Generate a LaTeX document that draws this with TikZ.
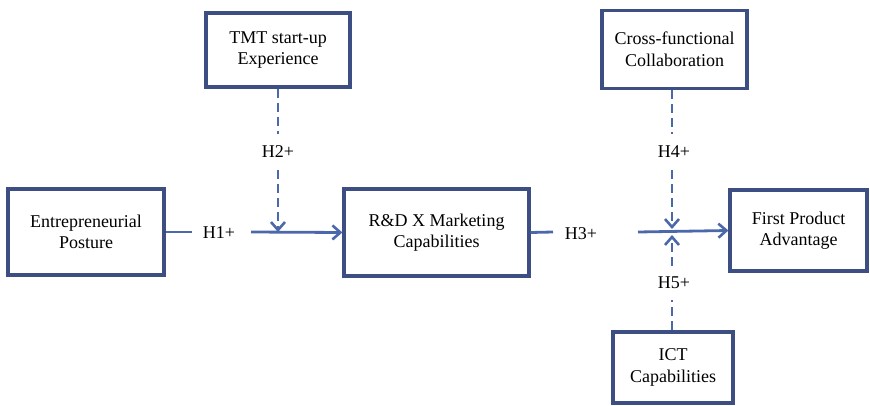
\documentclass[tikz,border=0pt]{standalone}
\usepackage{fontspec}
\setmainfont{Liberation Serif}
\usetikzlibrary{arrows.meta}
\definecolor{boxcol}{RGB}{60,78,130}
\definecolor{linecol}{RGB}{76,104,172}
\begin{document}
\begin{tikzpicture}[x=1pt,y=-1pt,
  box/.style={draw=boxcol,line width=3.2pt,fill=white,align=center,
    font=\fontsize{18}{21.5}\selectfont,inner sep=0pt},
  lbl/.style={font=\fontsize{18}{21.5}\selectfont,inner sep=0pt},
  conn/.style={draw=linecol,line width=2.8pt},
  dconn/.style={conn,dash pattern=on 9pt off 5pt},
  tip/.style={-{Straight Barb[length=8pt,width=14pt,line width=2.6pt]}}]
\useasboundingbox (0,0) rectangle (870,406);
% boxes
\node[box,minimum width=156pt,minimum height=86pt] (ep) at (86,232) {Entrepreneurial\\Posture};
\node[box,minimum width=144pt,minimum height=74pt] (tmt) at (278,50) {TMT start-up\\Experience};
\node[box,minimum width=185pt,minimum height=87pt] (rd) at (436.5,232.5) {R\&D X Marketing\\Capabilities};
\node[box,minimum width=145pt,minimum height=78pt] (cf) at (674.5,49.5) {Cross-functional\\Collaboration};
\node[box,minimum width=137pt,minimum height=81pt] (fpa) at (798.5,230.5) {First Product\\Advantage};
\node[box,minimum width=120pt,minimum height=71pt] (ict) at (673,367.5) {ICT\\Capabilities};
% labels
\node[lbl] (h1) at (219,233) {H1+};
\node[lbl] (h2) at (278,152) {H2+};
\node[lbl] (h3) at (581,234) {H3+};
\node[lbl] (h4) at (674,152) {H4+};
\node[lbl] (h5) at (674,283) {H5+};
% coordinates
\coordinate (h1a) at (192,232);
\coordinate (h1b) at (251,232);
\coordinate (j1) at (278,232);
\coordinate (h2a) at (278,134);
\coordinate (h2b) at (278,170);
\coordinate (h3a) at (553,232);
\coordinate (h3b) at (638,232);
\coordinate (j2) at (672,232);
\coordinate (j2u) at (672,229);
\coordinate (j2d) at (672,235);
\coordinate (h4a) at (672,134);
\coordinate (h4b) at (672,170);
\coordinate (h5a) at (672,300);
\coordinate (h5b) at (672,266);
% connectors
\draw[conn] (ep.east) -- (h1a);
\draw[conn,tip] (h1b) -- (rd.west);
\draw[dconn] (tmt.south) -- (h2a);
\draw[dconn,tip] (h2b) -- (j1);
\draw[conn] (rd.east) -- (h3a);
\draw[conn,tip] (h3b) -- (fpa.west);
\draw[dconn] (j2 |- cf.south) -- (h4a);
\draw[dconn,tip] (h4b) -- (j2u);
\draw[dconn] (j2 |- ict.north) -- (h5a);
\draw[dconn,tip] (h5b) -- (j2d);
\end{tikzpicture}
\end{document}
